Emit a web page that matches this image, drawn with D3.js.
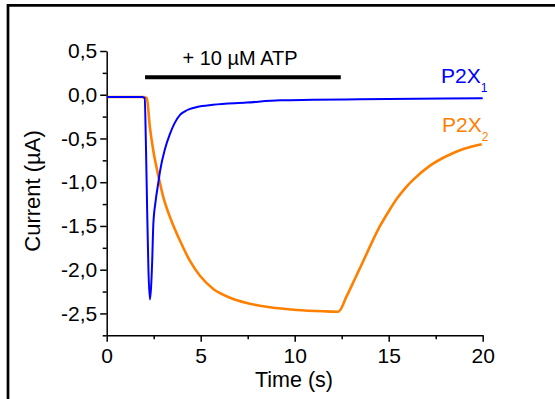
<!DOCTYPE html>
<html>
<head>
<meta charset="utf-8">
<script src="https://cdn.jsdelivr.net/npm/d3@7"></script>
<style>
  body { margin: 0; background: #fff; }
  svg { display: block; font-family: "Liberation Sans", Arial, sans-serif; }
</style>
</head>
<body>
<div id="chart"></div>
<script>
// time (s) / current (µA)
const p2x1Time = [0, 1.9, 2.02, 2.08, 2.15, 2.22, 2.3, 2.36, 2.42, 2.48, 2.6, 2.75, 2.84, 3.1, 3.36, 3.6, 3.9, 4.16, 4.4, 4.8, 5.65, 7.44, 9.22, 10.97, 13.47, 16.5, 20];
const p2x1Current = [-0.025, -0.025, -0.04, -0.5, -1.3, -2.0, -2.34, -2.2, -1.9, -1.48, -1.22, -1.0, -0.87, -0.62, -0.45, -0.33, -0.23, -0.19, -0.165, -0.14, -0.115, -0.09, -0.063, -0.058, -0.051, -0.045, -0.04];

const p2x2Time = [0, 2.0, 2.13, 2.3, 2.48, 2.75, 3.01, 3.37, 3.9, 4.43, 4.96, 5.67, 6.56, 7.45, 8.69, 10.11, 11.52, 12.32, 12.77, 13.21, 13.65, 14.1, 14.54, 14.98, 15.43, 15.87, 16.31, 17.2, 18.09, 18.97, 19.95];
const p2x2Current = [-0.025, -0.025, -0.04, -0.375, -0.64, -0.93, -1.17, -1.4, -1.67, -1.9, -2.07, -2.22, -2.32, -2.38, -2.43, -2.46, -2.475, -2.48, -2.3, -2.1, -1.9, -1.69, -1.5, -1.34, -1.19, -1.07, -0.97, -0.81, -0.7, -0.62, -0.565];

const atpWindow = [2.04, 12.45];
const xMajorTicks = [0, 5, 10, 15, 20];
const xMinorTicks = [2.5, 7.5, 12.5, 17.5];
const yMajorTicks = [0.5, 0, -0.5, -1, -1.5, -2, -2.5];
const yMinorTicks = [0.25, -0.25, -0.75, -1.25, -1.75, -2.25, -2.75];

const width = 555, height = 399;
const blue = "#0000ff", orange = "#ff8000";

const svg = d3.select("#chart").append("svg")
  .attr("width", width)
  .attr("height", height);

// outer frame (only left and top edges show)
svg.append("line").attr("x1", 8).attr("y1", 4).attr("x2", 8).attr("y2", height).attr("stroke", "#000").attr("stroke-width", 2.7);
svg.append("line").attr("x1", 7).attr("y1", 5.3).attr("x2", width).attr("y2", 5.3).attr("stroke", "#000").attr("stroke-width", 2.7);

const x = d3.scaleLinear().domain([0, 20]).range([106.7, 482.7]);
const y = d3.scaleLinear().domain([-2.75, 0.5]).range([335.3, 51]);

const locale = d3.formatLocale({ decimal: ",", thousands: ".", grouping: [3], currency: ["", ""], minus: "-" });
const fmt = locale.format(".1f");

// minor ticks first
svg.append("g")
  .attr("transform", `translate(0, ${y(-2.75)})`)
  .call(d3.axisBottom(x).tickValues(xMinorTicks).tickSize(4).tickFormat(""))
  .call(g => g.select(".domain").remove());
svg.append("g")
  .attr("transform", `translate(${x(0)}, 0)`)
  .call(d3.axisLeft(y).tickValues(yMinorTicks).tickSize(4).tickFormat(""))
  .call(g => g.select(".domain").remove());

svg.append("g")
  .attr("transform", `translate(0, ${y(-2.75)})`)
  .call(d3.axisBottom(x).tickValues(xMajorTicks).tickSize(6.5).tickSizeOuter(0).tickPadding(6.5).tickFormat(d3.format("d")));
svg.append("g")
  .attr("transform", `translate(${x(0)}, 0)`)
  .call(d3.axisLeft(y).tickValues(yMajorTicks).tickSize(6.5).tickSizeOuter(0).tickPadding(3).tickFormat(fmt));

svg.selectAll(".tick line, .domain").attr("stroke", "#000").attr("stroke-width", 1.5);
svg.selectAll(".tick text").attr("fill", "#000").attr("font-size", 21).attr("font-family", "Liberation Sans, Arial, sans-serif");

svg.append("text")
  .attr("x", 294).attr("y", 387)
  .attr("text-anchor", "middle")
  .attr("font-size", 21.5)
  .text("Time (s)");

svg.append("text")
  .attr("transform", "translate(40, 191) rotate(-90)")
  .attr("text-anchor", "middle")
  .attr("font-size", 22)
  .text("Current (µA)");

// ATP application bar
svg.append("line")
  .attr("x1", x(atpWindow[0])).attr("x2", x(atpWindow[1]))
  .attr("y1", 77.3).attr("y2", 77.3)
  .attr("stroke", "#000").attr("stroke-width", 4);
svg.append("text")
  .attr("x", 240).attr("y", 65)
  .attr("text-anchor", "middle")
  .attr("font-size", 20)
  .text("+ 10 µM ATP");

const line = d3.line()
  .x(d => x(d[0]))
  .y(d => y(d[1]))
  .curve(d3.curveMonotoneX);

svg.append("path")
  .datum(d3.zip(p2x2Time, p2x2Current))
  .attr("fill", "none")
  .attr("stroke", orange)
  .attr("stroke-width", 2.6)
  .attr("d", line);

svg.append("path")
  .datum(d3.zip(p2x1Time, p2x1Current))
  .attr("fill", "none")
  .attr("stroke", blue)
  .attr("stroke-width", 2)
  .attr("d", line);

// series labels
const labels = [
  { name: "P2X", sub: "1", color: blue, x: 441, y: 83 },
  { name: "P2X", sub: "2", color: orange, x: 442, y: 132 }
];
labels.forEach(l => {
  const t = svg.append("text")
    .attr("x", l.x).attr("y", l.y)
    .attr("fill", l.color)
    .attr("font-size", 21)
    .text(l.name);
  t.append("tspan")
    .attr("dy", 9)
    .attr("font-size", 12)
    .text(l.sub);
});
</script>
</body>
</html>
